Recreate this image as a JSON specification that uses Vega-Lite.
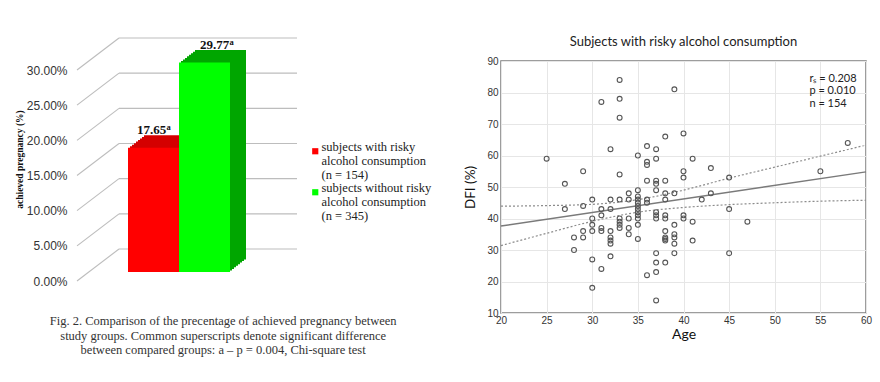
{
  "$schema": "https://vega.github.io/schema/vega-lite/v6.json",
  "background": "white",
  "padding": {"left": 14, "top": 35, "right": 5, "bottom": 5},
  "config": {"view": {"stroke": null}, "font": "Liberation Sans", "style": {"guide-label": {"lineHeight": 13.7}}},
  "datasets": {
    "bars": [
      {"group": "subjects with risky alcohol consumption (n = 154)", "rate": 17.65},
      {"group": "subjects without risky alcohol consumption (n = 345)", "rate": 29.77}
    ],
    "levels": [{"level": 0}, {"level": 5}, {"level": 10}, {"level": 15}, {"level": 20}, {"level": 25}, {"level": 30}],
    "pts": [
      {"age": 25, "dfi": 59}, {"age": 27, "dfi": 51}, {"age": 27, "dfi": 43}, {"age": 28, "dfi": 34}, {"age": 28, "dfi": 30},
      {"age": 29, "dfi": 55}, {"age": 29, "dfi": 44}, {"age": 29, "dfi": 36}, {"age": 29, "dfi": 34},
      {"age": 30, "dfi": 46}, {"age": 30, "dfi": 40}, {"age": 30, "dfi": 38}, {"age": 30, "dfi": 36}, {"age": 30, "dfi": 27}, {"age": 30, "dfi": 18},
      {"age": 31, "dfi": 77}, {"age": 31, "dfi": 43}, {"age": 31, "dfi": 41}, {"age": 31, "dfi": 37}, {"age": 31, "dfi": 36}, {"age": 31, "dfi": 24},
      {"age": 32, "dfi": 62}, {"age": 32, "dfi": 46}, {"age": 32, "dfi": 43}, {"age": 32, "dfi": 36}, {"age": 32, "dfi": 34}, {"age": 32, "dfi": 33}, {"age": 32, "dfi": 32}, {"age": 32, "dfi": 28},
      {"age": 33, "dfi": 84}, {"age": 33, "dfi": 78}, {"age": 33, "dfi": 72}, {"age": 33, "dfi": 54}, {"age": 33, "dfi": 46}, {"age": 33, "dfi": 40}, {"age": 33, "dfi": 39}, {"age": 33, "dfi": 38}, {"age": 33, "dfi": 37},
      {"age": 34, "dfi": 48}, {"age": 34, "dfi": 46}, {"age": 34, "dfi": 40}, {"age": 34, "dfi": 37}, {"age": 34, "dfi": 35},
      {"age": 35, "dfi": 60}, {"age": 35, "dfi": 49}, {"age": 35, "dfi": 47}, {"age": 35, "dfi": 46}, {"age": 35, "dfi": 45}, {"age": 35, "dfi": 44}, {"age": 35, "dfi": 43}, {"age": 35, "dfi": 42}, {"age": 35, "dfi": 41}, {"age": 35, "dfi": 40}, {"age": 35, "dfi": 38}, {"age": 35, "dfi": 33.5},
      {"age": 36, "dfi": 63}, {"age": 36, "dfi": 58}, {"age": 36, "dfi": 57}, {"age": 36, "dfi": 52}, {"age": 36, "dfi": 46}, {"age": 36, "dfi": 45}, {"age": 36, "dfi": 22},
      {"age": 37, "dfi": 62}, {"age": 37, "dfi": 59}, {"age": 37, "dfi": 52}, {"age": 37, "dfi": 51}, {"age": 37, "dfi": 49}, {"age": 37, "dfi": 42}, {"age": 37, "dfi": 41}, {"age": 37, "dfi": 40}, {"age": 37, "dfi": 29}, {"age": 37, "dfi": 26}, {"age": 37, "dfi": 23}, {"age": 37, "dfi": 14},
      {"age": 38, "dfi": 66}, {"age": 38, "dfi": 52}, {"age": 38, "dfi": 48}, {"age": 38, "dfi": 46}, {"age": 38, "dfi": 41}, {"age": 38, "dfi": 40}, {"age": 38, "dfi": 36}, {"age": 38, "dfi": 34}, {"age": 38, "dfi": 33.5}, {"age": 38, "dfi": 33}, {"age": 38, "dfi": 26},
      {"age": 39, "dfi": 81}, {"age": 39, "dfi": 48}, {"age": 39, "dfi": 38}, {"age": 39, "dfi": 35}, {"age": 39, "dfi": 34}, {"age": 39, "dfi": 32}, {"age": 39, "dfi": 29},
      {"age": 40, "dfi": 67}, {"age": 40, "dfi": 55}, {"age": 40, "dfi": 53}, {"age": 40, "dfi": 41}, {"age": 40, "dfi": 40},
      {"age": 41, "dfi": 59}, {"age": 41, "dfi": 39}, {"age": 41, "dfi": 33},
      {"age": 42, "dfi": 46}, {"age": 43, "dfi": 56}, {"age": 43, "dfi": 48},
      {"age": 45, "dfi": 53}, {"age": 45, "dfi": 43}, {"age": 45, "dfi": 29},
      {"age": 47, "dfi": 39}, {"age": 55, "dfi": 55}, {"age": 58, "dfi": 64}
    ],
    "fit": [{"age": 20, "dfi": 37.6}, {"age": 60, "dfi": 54.8}],
    "band": [
      {"age": 20, "upper": 43.9, "lower": 31.4},
      {"age": 25, "upper": 44.1, "lower": 35.3},
      {"age": 30, "upper": 44.5, "lower": 39.1},
      {"age": 35, "upper": 46.0, "lower": 42.0},
      {"age": 40, "upper": 49.0, "lower": 43.5},
      {"age": 45, "upper": 52.8, "lower": 44.4},
      {"age": 50, "upper": 56.3, "lower": 45.0},
      {"age": 55, "upper": 59.8, "lower": 45.5},
      {"age": 60, "upper": 63.3, "lower": 45.8}
    ]
  },
  "spacing": 31,
  "resolve": {"scale": {"color": "independent"}, "legend": {"color": "independent"}},
  "hconcat": [
    {
      "width": 220,
      "height": 211,
      "view": {"stroke": null},
      "title": {
        "text": ["Fig. 2. Comparison of the precentage of achieved pregnancy between", "study groups. Common superscripts denote significant difference", "between compared groups: a – p = 0.004, Chi-square test"],
        "orient": "bottom", "anchor": "middle", "frame": "bounds",
        "font": "Liberation Serif", "fontSize": 12.5, "fontWeight": "normal", "color": "#333333", "lineHeight": 14.5, "offset": 28
      },
      "resolve": {"scale": {"x": "independent"}},
      "layer": [
        {
          "data": {"name": "levels"},
          "layer": [
            {
              "mark": {"type": "rule", "color": "#bdbdbd", "strokeWidth": 1.1, "yOffset": 9, "y2Offset": -23},
              "encoding": {
                "x": {"datum": 0, "type": "quantitative", "scale": {"domain": [0, 220], "nice": false, "zero": false}, "axis": null},
                "x2": {"datum": 42},
                "y": {"field": "level", "type": "quantitative", "title": "achieved pregnancy (%)"},
                "y2": {"field": "level"}
              }
            },
            {
              "mark": {"type": "rule", "color": "#bdbdbd", "strokeWidth": 1.1, "yOffset": -23},
              "encoding": {
                "x": {"datum": 42, "type": "quantitative", "scale": {"domain": [0, 220], "nice": false, "zero": false}, "axis": null},
                "x2": {"datum": 220},
                "y": {"field": "level", "type": "quantitative", "title": "achieved pregnancy (%)"}
              }
            }
          ]
        },
        {
          "data": {"name": "bars"},
          "encoding": {
            "x": {"field": "group", "type": "nominal", "sort": null, "scale": {"domain": ["subjects with risky alcohol consumption (n = 154)", "subjects without risky alcohol consumption (n = 345)"], "range": [51, 153], "paddingInner": 0, "paddingOuter": 0}, "axis": null},
            "y": {
              "field": "rate", "type": "quantitative", "title": "achieved pregnancy (%)",
              "scale": {"domain": [0, 30], "nice": false, "zero": true},
              "axis": {
                "values": [0, 5, 10, 15, 20, 25, 30],
                "tickCount": 10,
                "labelExpr": "format(datum.value, '.2f') + '%'",
                "labelOverlap": false, "labelFlush": false,
                "labelOffset": 9, "ticks": false, "domain": false, "grid": false, "labelPadding": 10,
                "labelFont": "Liberation Sans", "labelFontSize": 12, "labelColor": "#333333",
                "titleFont": "Liberation Serif", "titleFontSize": 9.5, "titleFontWeight": "bold", "titleColor": "#111111", "titlePadding": 2, "titleY": 98
              }
            }
          },
          "layer": [
            {"mark": {"type": "bar", "xOffset": 16, "yOffset": -12.5, "y2Offset": -12.5}, "encoding": {"fill": {"condition": {"test": "datum.rate > 20", "value": "#00a600"}, "value": "#d40000"}}},
            {"mark": {"type": "bar", "xOffset": 14, "yOffset": -10.9, "y2Offset": -10.9}, "encoding": {"fill": {"condition": {"test": "datum.rate > 20", "value": "#00a600"}, "value": "#d40000"}}},
            {"mark": {"type": "bar", "xOffset": 12, "yOffset": -9.4, "y2Offset": -9.4}, "encoding": {"fill": {"condition": {"test": "datum.rate > 20", "value": "#00a600"}, "value": "#d40000"}}},
            {"mark": {"type": "bar", "xOffset": 10, "yOffset": -7.8, "y2Offset": -7.8}, "encoding": {"fill": {"condition": {"test": "datum.rate > 20", "value": "#00a600"}, "value": "#d40000"}}},
            {"mark": {"type": "bar", "xOffset": 8, "yOffset": -6.25, "y2Offset": -6.25}, "encoding": {"fill": {"condition": {"test": "datum.rate > 20", "value": "#00a600"}, "value": "#d40000"}}},
            {"mark": {"type": "bar", "xOffset": 6, "yOffset": -4.7, "y2Offset": -4.7}, "encoding": {"fill": {"condition": {"test": "datum.rate > 20", "value": "#00a600"}, "value": "#d40000"}}},
            {"mark": {"type": "bar", "xOffset": 4, "yOffset": -3.1, "y2Offset": -3.1}, "encoding": {"fill": {"condition": {"test": "datum.rate > 20", "value": "#00a600"}, "value": "#d40000"}}},
            {"mark": {"type": "bar", "xOffset": 2, "yOffset": -1.6, "y2Offset": -1.6}, "encoding": {"fill": {"condition": {"test": "datum.rate > 20", "value": "#00a600"}, "value": "#d40000"}}},
            {
              "mark": {"type": "bar", "opacity": 1},
              "encoding": {
                "color": {
                  "field": "group", "type": "nominal",
                  "scale": {"domain": ["subjects with risky alcohol consumption (n = 154)", "subjects without risky alcohol consumption (n = 345)"], "range": ["#ff0000", "#00ff00"]},
                  "legend": {
                    "orient": "none", "legendX": 232, "legendY": 84, "title": null, "padding": 0,
                    "symbolType": "square", "symbolSize": 38, "symbolStrokeWidth": 0, "symbolOpacity": 1,
                    "labelFont": "Liberation Serif", "labelFontSize": 12.5, "labelColor": "#222222", "labelLimit": 0,
                    "labelBaseline": "alphabetic", "labelOffset": 0, "rowPadding": 0,
                    "labelExpr": "indexof(datum.label, 'without') >= 0 ? ['subjects without risky', 'alcohol consumption', '(n = 345)'] : ['subjects with risky', 'alcohol consumption', '(n = 154)']"
                  }
                }
              }
            },
            {
              "mark": {"type": "text", "font": "Liberation Serif", "fontSize": 13, "fontWeight": "bold", "color": "#111111", "baseline": "middle", "dy": -18, "dx": {"expr": "datum.rate > 20 ? 10 : -2"}},
              "encoding": {"text": {"field": "rate", "type": "quantitative", "format": ".2f"}}
            },
            {
              "mark": {"type": "text", "font": "Liberation Serif", "fontSize": 8.5, "fontWeight": "bold", "color": "#111111", "baseline": "middle", "dy": -21, "dx": {"expr": "datum.rate > 20 ? 27 : 15"}},
              "encoding": {"text": {"value": "a"}}
            }
          ]
        }
      ]
    },
    {
      "width": 365,
      "height": 252,
      "view": {"stroke": "#7d7d7d", "strokeWidth": 1.5},
      "title": {"text": "Subjects with risky alcohol consumption", "font": "Lato", "fontSize": 13, "fontWeight": "normal", "color": "#222222", "offset": 7},
      "layer": [
        {
          "data": {"name": "band"},
          "mark": {"type": "line", "interpolate": "monotone", "stroke": "#8c8c8c", "strokeWidth": 1.2, "strokeDash": [2, 2]},
          "encoding": {
            "x": {
              "field": "age", "type": "quantitative", "title": "Age",
              "scale": {"domain": [20, 60], "nice": false, "zero": false},
              "axis": {"values": [20, 25, 30, 35, 40, 45, 50, 55, 60], "tickCount": 10, "labelOverlap": false, "labelFlush": false, "grid": true, "gridColor": "#e6e6e6", "domain": false, "ticks": false, "labelPadding": 2,
                "labelFont": "Liberation Sans", "labelFontSize": 10, "labelColor": "#333333",
                "titleFont": "Lato", "titleFontSize": 14, "titleFontWeight": "normal", "titleColor": "#111111", "titlePadding": 2}
            },
            "y": {
              "field": "upper", "type": "quantitative", "title": "DFI (%)",
              "scale": {"domain": [10, 90], "nice": false, "zero": false},
              "axis": {"values": [10, 20, 30, 40, 50, 60, 70, 80, 90], "tickCount": 10, "labelOverlap": false, "labelFlush": false, "grid": true, "gridColor": "#e6e6e6", "domain": false, "ticks": false, "labelPadding": 3,
                "labelFont": "Liberation Sans", "labelFontSize": 10, "labelColor": "#333333",
                "titleFont": "Lato", "titleFontSize": 13.5, "titleFontWeight": "normal", "titleColor": "#111111", "titlePadding": 9}
            }
          }
        },
        {
          "data": {"name": "band"},
          "mark": {"type": "line", "interpolate": "monotone", "stroke": "#8c8c8c", "strokeWidth": 1.2, "strokeDash": [2, 2]},
          "encoding": {
            "x": {"field": "age", "type": "quantitative", "title": "Age"},
            "y": {"field": "lower", "type": "quantitative", "title": "DFI (%)"}
          }
        },
        {
          "data": {"name": "fit"},
          "mark": {"type": "line", "stroke": "#7a7a7a", "strokeWidth": 1.5},
          "encoding": {
            "x": {"field": "age", "type": "quantitative", "title": "Age"},
            "y": {"field": "dfi", "type": "quantitative", "title": "DFI (%)"}
          }
        },
        {
          "data": {"name": "pts"},
          "mark": {"type": "point", "shape": "circle", "filled": false, "stroke": "#555555", "strokeWidth": 1.1, "size": 24, "opacity": 1},
          "encoding": {
            "x": {"field": "age", "type": "quantitative", "title": "Age"},
            "y": {"field": "dfi", "type": "quantitative", "title": "DFI (%)"}
          }
        },
        {
          "data": {"values": [{}]},
          "mark": {"type": "text", "align": "left", "baseline": "top", "font": "Lato", "fontSize": 11, "lineHeight": 12.7, "color": "#222222"},
          "encoding": {
            "x": {"datum": 53.8, "type": "quantitative"},
            "y": {"datum": 86.3, "type": "quantitative"},
            "text": {"value": ["rₛ = 0.208", "p = 0.010", "n = 154"]}
          }
        }
      ]
    }
  ]
}
